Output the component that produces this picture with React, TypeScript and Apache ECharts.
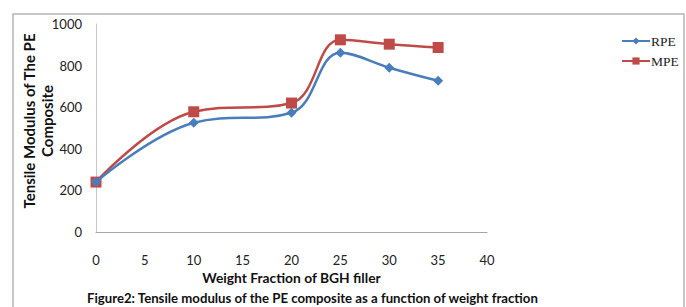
import React, { useEffect, useRef } from "react";
import * as echarts from "echarts";

const weightFraction = [0, 10, 20, 25, 30, 35];
const rpeValues = [240, 525, 573, 862, 790, 727];
const mpeValues = [240, 578, 620, 924, 903, 887];
const seriesNames = ["RPE", "MPE"];
const yAxisTitle = "Tensile Modulus of The PE\nComposite";
const xAxisTitle = "Weight Fraction of BGH filler";
const caption = "Figure2: Tensile modulus of the PE composite as a function of weight fraction";

export default function App() {
  const ref = useRef<HTMLDivElement>(null);
  useEffect(() => {
    document.body.style.margin = "0";
    const chart = echarts.init(ref.current!, null, { renderer: "svg" });
    const font = "Lato, 'Open Sans', sans-serif";
    chart.setOption({
      animation: false,
      backgroundColor: "#fff",
      grid: { left: 96, right: 199, top: 24, bottom: 75, containLabel: false },
      legend: {
        orient: "vertical",
        left: 616,
        top: 29,
        itemGap: 6,
        itemWidth: 28,
        itemHeight: 9,
        data: seriesNames,
        textStyle: { fontFamily: "'Liberation Serif', serif", fontSize: 13.5, color: "#222", padding: [0, 0, 0, -4] },
      },
      xAxis: {
        type: "value",
        min: 0,
        max: 40,
        interval: 5,
        name: xAxisTitle,
        nameLocation: "middle",
        nameGap: 37,
        nameTextStyle: { fontFamily: font, fontWeight: "bold", fontSize: 13.8, color: "#111" },
        axisLine: { show: true, lineStyle: { color: "#a6a6a6", width: 1 } },
        axisTick: { show: false },
        splitLine: { show: false },
        axisLabel: { margin: 21, fontFamily: font, fontSize: 13, color: "#222" },
      },
      yAxis: {
        type: "value",
        min: 0,
        max: 1000,
        interval: 200,
        axisLine: { show: true, lineStyle: { color: "#c8c8c8", width: 1 } },
        axisTick: { show: false },
        splitLine: { show: false },
        axisLabel: { margin: 14, fontFamily: font, fontSize: 13, color: "#222", formatter: (v: number) => String(v) },
      },
      series: [
        {
          name: seriesNames[0],
          type: "line",
          smooth: 0.4,
          data: weightFraction.map((x, i) => [x, rpeValues[i]]),
          symbol: "diamond",
          symbolSize: 10,
          itemStyle: { color: "#4a7ebb" },
          lineStyle: { color: "#4a7ebb", width: 2.5 },
          z: 3,
        },
        {
          name: seriesNames[1],
          type: "line",
          smooth: 0.4,
          data: weightFraction.map((x, i) => [x, mpeValues[i]]),
          symbol: "rect",
          symbolSize: 11,
          itemStyle: { color: "#be4b48" },
          lineStyle: { color: "#be4b48", width: 2.5 },
          z: 2,
        },
      ],
      graphic: [
        {
          type: "rect",
          shape: { x: 13, y: 14, width: 671, height: 320 },
          style: { fill: "none", stroke: "#b5b5b5", lineWidth: 1.5 },
          silent: true,
        },
        {
          type: "text",
          x: 38,
          y: 121,
          rotation: Math.PI / 2,
          style: {
            text: yAxisTitle,
            fontFamily: font,
            fontWeight: "bold",
            fontSize: 15,
            lineHeight: 18,
            fill: "#111",
            align: "center",
            verticalAlign: "middle",
          },
        },
        {
          type: "text",
          x: 87,
          y: 298,
          style: {
            text: caption,
            fontFamily: font,
            fontWeight: "bold",
            fontSize: 13.2,
            fill: "#111",
            align: "left",
            verticalAlign: "middle",
          },
        },
      ],
    });
    return () => chart.dispose();
  }, []);
  return <div ref={ref} style={{ width: 686, height: 307 }} />;
}
